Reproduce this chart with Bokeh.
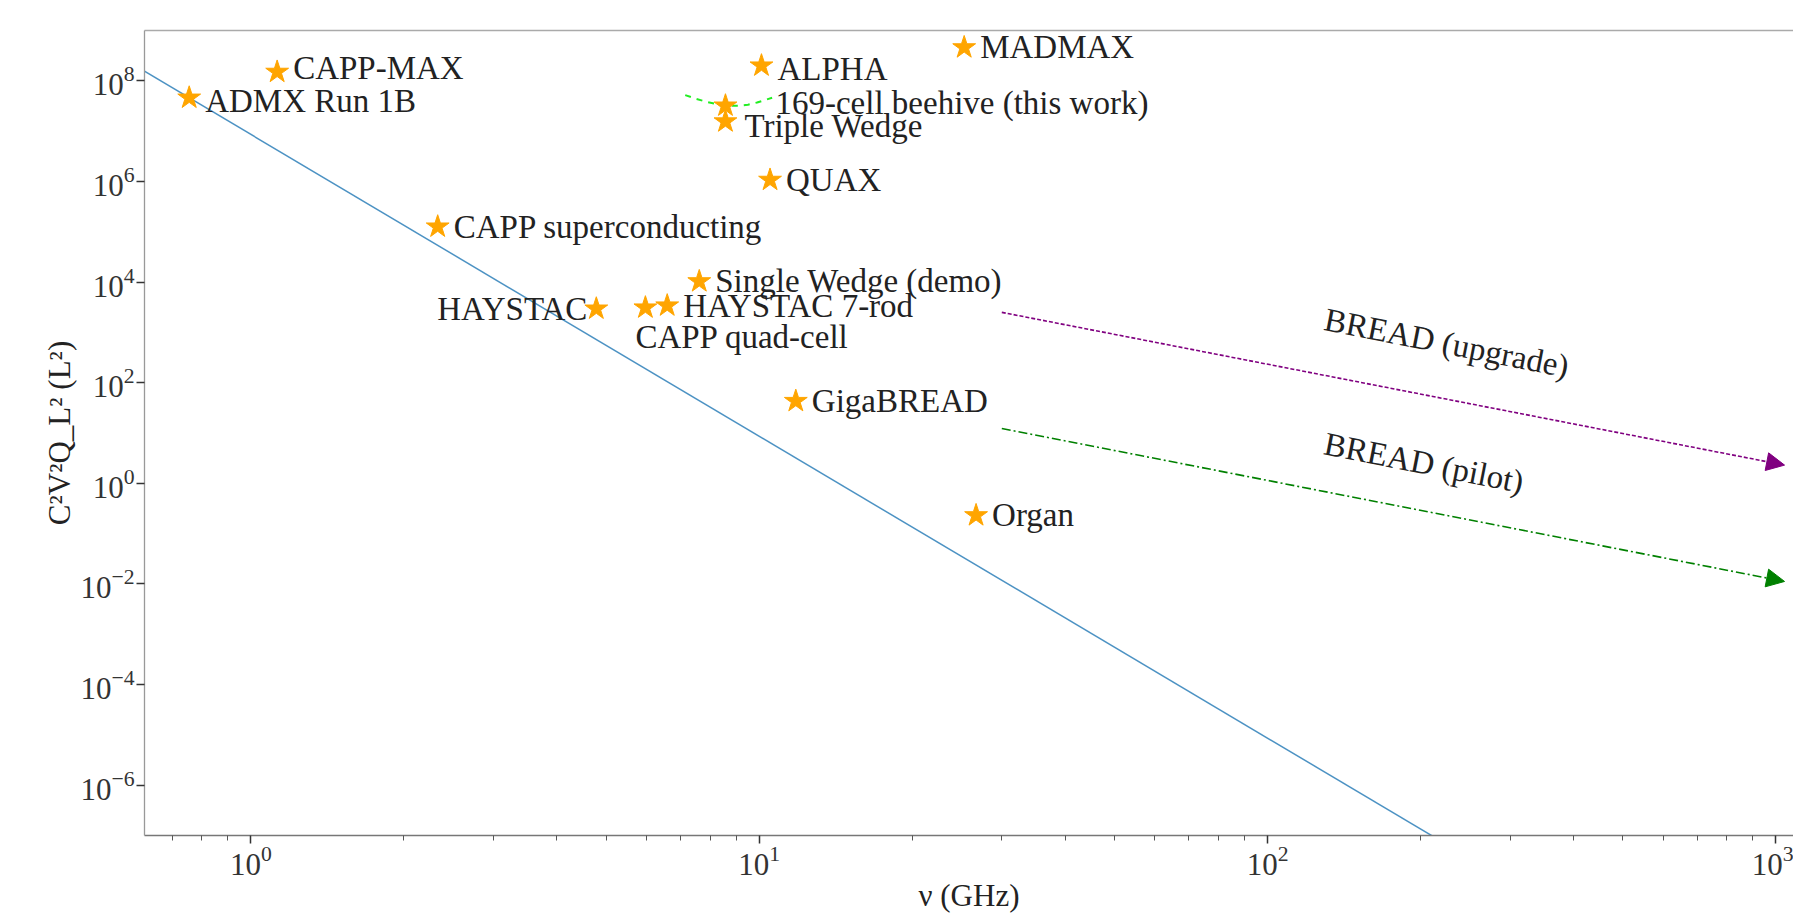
from bokeh.plotting import figure
from bokeh.models import (ColumnDataSource, FixedTicker, LogTickFormatter, Arrow,
                          NormalHead, Range1d, LogAxis)
from bokeh.core.properties import value
from bokeh.embed import file_html
from bokeh.resources import INLINE

# ---------------- data ----------------
names = ["ADMX Run 1B", "CAPP-MAX", "ALPHA", "MADMAX",
         "169-cell beehive (this work)", "Triple Wedge", "QUAX",
         "CAPP superconducting", "Single Wedge (demo)", "HAYSTAC",
         "CAPP quad-cell", "HAYSTAC 7-rod", "GigaBREAD", "Organ"]
freq_ghz = [0.756, 1.126, 10.1, 25.3, 8.58, 8.58, 10.5, 2.33, 7.62, 4.78,
            5.97, 6.59, 11.8, 26.7]
c2v2q2 = [4.6e7, 1.5e8, 2.0e8, 4.6e8, 3.2e7, 1.55e7, 1.07e6, 1.26e5,
          1.03e4, 2.95e3, 3.1e3, 3.4e3, 43.0, 0.23]

# scaling line (nu^-6 through ADMX)
scaling_f = [0.6, 220.0]
scaling_c = [1.84e8, 7.6e-8]

# beehive tuning curve
beehive_f = [7.15, 7.5, 7.9, 8.3, 8.7, 9.1, 9.5, 9.9, 10.3, 10.6]
beehive_c = [5.2e7, 4.4e7, 3.8e7, 3.4e7, 3.2e7, 3.2e7, 3.35e7, 3.7e7, 4.2e7, 4.6e7]

# BREAD projections
bread_upgrade_f = [30.0, 1040.0]
bread_upgrade_c = [2.5e3, 2.3]
bread_pilot_f = [30.0, 1040.0]
bread_pilot_c = [12.3, 0.0112]
bread_labels = ["BREAD (upgrade)", "BREAD (pilot)"]
bread_label_f = [225.0, 203.0]
bread_label_c = [617.0, 2.56]

y_ticks = [1e-6, 1e-4, 1e-2, 1e0, 1e2, 1e4, 1e6, 1e8]
x_ticks = [1, 10, 100, 1000]
x_minor = [0.7, 0.8, 0.9] + [m * d for d in (1, 10, 100) for m in range(2, 10)]

# ---------------- label placement (screen px) ----------------
label_dx = {n: 16 for n in names}
label_dy = {n: 0 for n in names}
label_align = {n: "left" for n in names}
label_dx["169-cell beehive (this work)"] = 50
label_dy["169-cell beehive (this work)"] = -3
label_dx["Triple Wedge"] = 19
label_dy["Triple Wedge"] = 4
label_dy["ALPHA"] = 3
label_dy["ADMX Run 1B"] = 3
label_dy["CAPP-MAX"] = -4
label_dx["HAYSTAC"] = -9
label_align["HAYSTAC"] = "right"
label_dx["CAPP quad-cell"] = -10
label_dy["CAPP quad-cell"] = 29

FONT = "Liberation Serif"
FS = "33px"
TFS = "31px"

p = figure(width=1793, height=915, x_axis_type="log", y_axis_type="log",
           x_range=Range1d(0.6174, 1083), y_range=Range1d(1e-7, 1e9),
           output_backend="svg", toolbar_location=None,
           min_border_left=144, min_border_right=0, min_border_top=30,
           min_border_bottom=78)
p.xgrid.visible = False
p.ygrid.visible = False
p.outline_line_color = None
p.background_fill_color = "white"
p.border_fill_color = "white"

xb = p.below[0]
yl = p.left[0]

# scaling line
p.line(scaling_f, scaling_c, line_color="#1f77b4", line_width=1.5,
       line_alpha=0.8)

# beehive curve
p.line(beehive_f, beehive_c, line_color="#22ee22", line_width=2,
       line_dash="dashed")

# BREAD arrows
up_src = ColumnDataSource(dict(x0=[bread_upgrade_f[0]], y0=[bread_upgrade_c[0]],
                               x1=[bread_upgrade_f[1]], y1=[bread_upgrade_c[1]]))
pi_src = ColumnDataSource(dict(x0=[bread_pilot_f[0]], y0=[bread_pilot_c[0]],
                               x1=[bread_pilot_f[1]], y1=[bread_pilot_c[1]]))
p.add_layout(Arrow(source=up_src, x_start="x0", y_start="y0", x_end="x1", y_end="y1",
                   line_color="purple", line_width=1.6, line_dash="4 2",
                   end=NormalHead(size=18, fill_color="purple", line_color="purple")))
p.add_layout(Arrow(source=pi_src, x_start="x0", y_start="y0", x_end="x1", y_end="y1",
                   line_color="green", line_width=1.6, line_dash="9 3 2 3",
                   end=NormalHead(size=18, fill_color="green", line_color="green")))

bl_src = ColumnDataSource(dict(x=bread_label_f, y=bread_label_c, t=bread_labels))
p.text(x="x", y="y", text="t", source=bl_src, angle=-0.194,
       text_align="center", text_baseline="middle",
       text_font=value(FONT), text_font_size=FS, text_color="#222222")

# stars
src = ColumnDataSource(dict(
    x=freq_ghz, y=c2v2q2, name=names,
    dx=[label_dx[n] for n in names], dy=[label_dy[n] for n in names],
    al=[label_align[n] for n in names]))
p.scatter(x="x", y="y", source=src, marker="star", size=24,
          fill_color="orange", line_color="orange")
p.text(x="x", y="y", text="name", source=src, x_offset="dx", y_offset="dy",
       text_align="al", text_baseline="middle",
       text_font=value(FONT), text_font_size=FS, text_color="#222222")

# axes
for ax in (xb, yl):
    ax.axis_line_width = 1.3
    ax.major_tick_line_color = "#333333"
    ax.major_tick_line_width = 1.5
    ax.minor_tick_line_color = "#555555"
    ax.major_tick_in = 0
    ax.major_tick_out = 8
    ax.minor_tick_in = 0
    ax.minor_tick_out = 5
    ax.major_label_text_font = FONT
    ax.major_label_text_font_size = TFS
    ax.major_label_text_color = "#333333"
    ax.axis_label_text_font = FONT
    ax.axis_label_text_font_size = TFS
    ax.axis_label_text_font_style = "normal"
    ax.axis_label_text_color = "#222222"
    ax.major_label_standoff = 2
    ax.axis_label_standoff = 0
xb.axis_line_color = "#777777"
yl.axis_line_color = "#999999"

xb.ticker = FixedTicker(ticks=x_ticks, minor_ticks=x_minor)
yl.ticker = FixedTicker(ticks=y_ticks, minor_ticks=[])
xb.formatter = LogTickFormatter()
yl.formatter = LogTickFormatter()
xb.axis_label = "ν (GHz)"
yl.axis_label = "C²V²Q_L² (L²)"

# top spine
top = LogAxis(ticker=FixedTicker(ticks=[], minor_ticks=[]),
              major_label_text_font_size="0px", axis_line_color="#aaaaaa",
              axis_line_width=1.5, major_tick_line_color=None,
              minor_tick_line_color=None, major_label_standoff=0,
              axis_label=None)
p.add_layout(top, "above")

open("out.html", "w").write(file_html(p, INLINE))
